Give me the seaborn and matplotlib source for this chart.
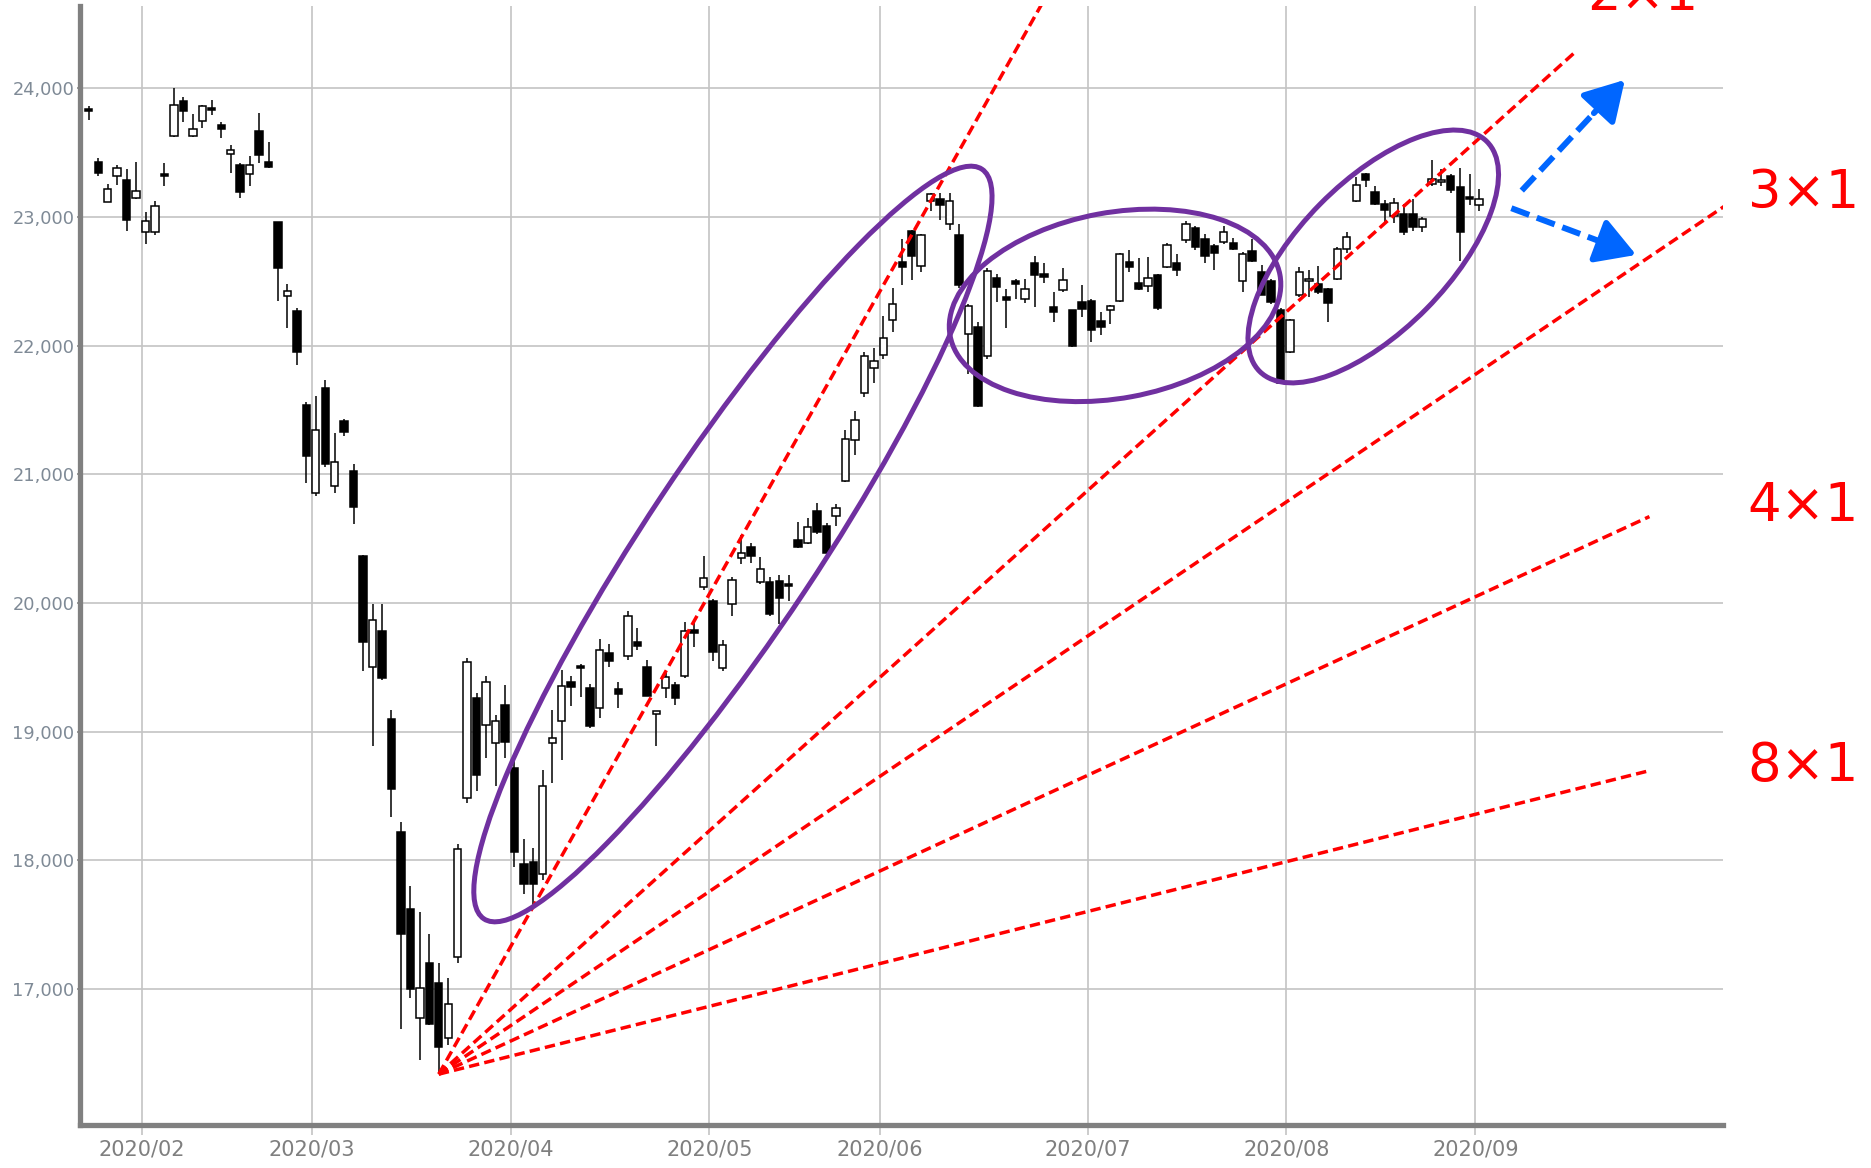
import matplotlib
matplotlib.use("Agg")
import matplotlib.pyplot as plt
import numpy as np
import pandas as pd
import seaborn as sns
from matplotlib.patches import Ellipse, FancyArrowPatch
from matplotlib.transforms import ScaledTranslation

# %% trading days (TSE holidays removed)
holidays = ["2020-02-11", "2020-02-24", "2020-03-20", "2020-04-29", "2020-05-04",
            "2020-05-05", "2020-05-06", "2020-07-23", "2020-07-24", "2020-08-10"]
dates = pd.bdate_range("2020-01-24", "2020-09-01").difference(pd.to_datetime(holidays))

# %% daily OHLC
opens = [
    23830, 23430, 23120, 23320, 23290, 23150,
    22880, 22885, 23330, 23632, 23900, 23626, 23742, 23850, 23716, 23492, 23400, 23330, 23665, 23425, 22957, 22385, 22266, 21540,
    20858, 21670, 20910, 21417, 21030, 20367, 19506, 19785, 19097, 18218, 17627, 16780, 17200, 17050, 16621, 17252, 18488, 19261, 19055, 18914, 19210,
    18720, 17974, 17990, 17897, 18914, 19080, 19390, 19500, 19337, 19183, 19611, 19330, 19592, 19700, 19505, 19137, 19337, 19364, 19436, 19790, 20124,
    20020, 19494, 19994, 20354, 20436, 20160, 20160, 20174, 20150, 20488, 20470, 20715, 20600, 20677, 20948, 21270, 21630, 21824,
    21926, 22197, 22648, 22892, 22622, 23124, 23137, 22944, 22857, 22094, 22146, 21920, 22525, 22380, 22506, 22364, 22640, 22560, 22300, 22429, 22274, 22342,
    22350, 22190, 22280, 22350, 22650, 22486, 22460, 22547, 22609, 22641, 22823, 22911, 22825, 22777, 22802, 22794, 22506, 22738, 22570, 22504, 22274,
    21953, 22390, 22506, 22480, 22442, 22519, 22749, 23124, 23330, 23193, 23098, 23008, 23021, 23021, 22925, 23253, 23270, 23317, 23235, 23150,
    23090,
]
highs = [
    23860, 23460, 23255, 23400, 23370, 23425,
    23040, 23125, 23420, 24000, 23930, 23800, 23870, 23910, 23740, 23560, 23420, 23470, 23807, 23580, 22960, 22480, 22290, 21560,
    21607, 21733, 21320, 21430, 21080, 20370, 19990, 19996, 19170, 18300, 17800, 17600, 17430, 17200, 17090, 18128, 19570, 19300, 19430, 19130, 19360,
    18780, 18170, 18100, 18700, 19170, 19480, 19430, 19530, 19370, 19720, 19680, 19385, 19940, 19810, 19560, 19165, 19460, 19390, 19855, 19855, 20365,
    20030, 19710, 20200, 20530, 20470, 20355, 20200, 20215, 20215, 20630, 20660, 20775, 20620, 20770, 21345, 21490, 21950, 21980,
    22227, 22450, 22825, 22900, 22870, 23185, 23185, 23185, 22944, 22320, 22180, 22600, 22560, 22440, 22520, 22520, 22700, 22640, 22415, 22600, 22280, 22470,
    22360, 22260, 22315, 22720, 22745, 22680, 22690, 22560, 22800, 22715, 22970, 22930, 22870, 22790, 22930, 22840, 22730, 22830, 22630, 22520, 22290,
    22210, 22610, 22590, 22620, 22450, 22770, 22880, 23310, 23340, 23240, 23130, 23150, 23100, 23137, 23000, 23440, 23370, 23330, 23380, 23330,
    23215,
]
lows = [
    23755, 23320, 23115, 23250, 22892, 23140,
    22790, 22860, 23240, 23620, 23740, 23620, 23690, 23790, 23610, 23340, 23150, 23240, 23420, 23380, 22344, 22138, 21850, 20935,
    20834, 21060, 20855, 21296, 20613, 19472, 18891, 19400, 18339, 16690, 16930, 16450, 16720, 16340, 16570, 17200, 18450, 18540, 18800, 18578, 18800,
    17950, 17740, 17646, 17850, 18600, 18780, 19200, 19270, 19030, 19110, 19500, 19185, 19560, 19635, 19280, 18890, 19260, 19210, 19420, 19660, 20100,
    19552, 19470, 19900, 20300, 20310, 20150, 19900, 19840, 20020, 20430, 20460, 20540, 20370, 20600, 20940, 21150, 21600, 21710,
    21900, 22110, 22470, 22510, 22570, 23050, 22980, 22900, 22450, 21780, 21520, 21900, 22340, 22140, 22360, 22330, 22300, 22490, 22185, 22420, 21990, 22220,
    22030, 22080, 22170, 22340, 22570, 22430, 22420, 22280, 22600, 22545, 22800, 22740, 22640, 22590, 22790, 22740, 22420, 22650, 22390, 22320, 21700,
    21940, 22380, 22380, 22400, 22180, 22510, 22720, 23120, 23230, 23090, 22960, 22950, 22860, 22890, 22880, 23240, 23240, 23190, 22660, 23090,
    23050,
]
closes = [
    23827, 23343, 23215, 23379, 22977, 23205,
    22971, 23084, 23319, 23873, 23827, 23686, 23861, 23828, 23687, 23523, 23194, 23400, 23479, 23386, 22605, 22426, 21948, 21142,
    21344, 21082, 21100, 21329, 20749, 19698, 19867, 19416, 18559, 17431, 17002, 17011, 16726, 16552, 16887, 18092, 19546, 18665, 19389, 19084, 18917,
    18065, 17819, 17820, 18576, 18950, 19353, 19345, 19498, 19043, 19639, 19551, 19290, 19897, 19669, 19281, 19165, 19429, 19262, 19783, 19771, 20193,
    19619, 19674, 20179, 20390, 20366, 20267, 19914, 20037, 20133, 20433, 20595, 20552, 20388, 20741, 21271, 21419, 21916, 21877,
    22062, 22325, 22613, 22695, 22863, 23178, 23091, 23124, 22473, 22305, 21530, 22582, 22455, 22355, 22479, 22437, 22549, 22534, 22260, 22512, 21995, 22288,
    22122, 22146, 22306, 22714, 22614, 22438, 22529, 22291, 22784, 22587, 22945, 22770, 22696, 22717, 22884, 22751, 22716, 22657, 22397, 22339, 21710,
    22196, 22573, 22514, 22418, 22329, 22750, 22843, 23250, 23289, 23097, 23051, 23110, 22880, 22920, 22985, 23296, 23290, 23209, 22882, 23140,
    23138,
]

# %% Gann fan drawn from the March low
fan_names = ["1×1", "2×1", "3×1", "4×1", "8×1"]
fan_origin_idx = 37
fan_origin_price = 16340
fan_end_idx = [101.0, 157.1, 172.9, 165.0, 165.0]
fan_end_price = [24686, 24278, 23082, 20672, 18698]

label_names = ["2×1", "3×1", "4×1", "8×1"]
label_idx = [158.4, 175.4, 175.4, 175.4]
label_price = [24608, 23070, 20638, 18618]

# ellipses: centre (trading day, price), size in inches, tilt in degrees
ell_idx = [68.1, 108.5, 135.8]
ell_price = [20459, 22313, 22693]
ell_w = [9.0, 3.354, 3.232]
ell_h = [1.72, 1.856, 1.492]
ell_angle = [56.4, 10.5, 45.4]

# blue scenario arrows
arr_start_idx = [151.5, 150.4]
arr_start_price = [23205, 23068]
arr_tip_idx = [162.4, 163.6]
arr_tip_price = [24065, 22705]

yticks = [17000, 18000, 19000, 20000, 21000, 22000, 23000, 24000]

# %%
df = pd.DataFrame({"Date": dates, "Open": opens, "High": highs, "Low": lows, "Close": closes})
df["idx"] = np.arange(len(df))
df["up"] = df.Close >= df.Open
df["body_lo"] = df[["Open", "Close"]].min(axis=1)
df["body_h"] = (df.Close - df.Open).abs().clip(lower=12)

month_first = df.groupby(df.Date.dt.to_period("M")).idx.min().iloc[1:]
month_lbl = [d.strftime("%Y/%m") for d in df.Date.iloc[month_first.values]]

sns.set_theme(style="whitegrid")
plt.rcParams["font.family"] = ["DejaVu Sans"]

fig = plt.figure(figsize=(18.71, 11.68), dpi=100)
ax = fig.add_axes([0.04276, 0.03682, 0.8781, 0.95804])
ax.set_xlim(-0.93, 172.77)
ax.set_ylim(15945, 24639)

ax.vlines(df.idx, df.Low, df.High, color="black", lw=1.1, zorder=2)
for up, group in df.groupby("up"):
    ax.bar(group.idx, group.body_h, bottom=group.body_lo, width=0.78,
           color="white" if up else "black", edgecolor="black", lw=1.1, zorder=3)

for name, xe, ye in zip(fan_names, fan_end_idx, fan_end_price):
    ax.plot([fan_origin_idx, xe], [fan_origin_price, ye], color="#ff0000", lw=2.5,
            linestyle=(0, (3.0, 1.5)), zorder=4)

for name, xt, yt in zip(label_names, label_idx, label_price):
    ax.text(xt, yt, name, color="#ff0000", fontsize=38, ha="left", va="baseline",
            clip_on=False, zorder=7)

for cx, cy, w, h, ang in zip(ell_idx, ell_price, ell_w, ell_h, ell_angle):
    trans = fig.dpi_scale_trans + ScaledTranslation(cx, cy, ax.transData)
    ax.add_patch(Ellipse((0, 0), w, h, angle=ang, transform=trans, fill=False,
                         edgecolor="#7030a0", lw=3.6, zorder=5))

blue = "#0066ff"
for x0, y0, x1, y1 in zip(arr_start_idx, arr_start_price, arr_tip_idx, arr_tip_price):
    xm, ym = x1 - 0.3 * (x1 - x0), y1 - 0.3 * (y1 - y0)
    ax.plot([x0, xm], [y0, ym], color=blue, lw=4.3, linestyle=(0, (3.2, 1.35)),
            solid_capstyle="butt", dash_capstyle="butt", zorder=6)
    ax.add_patch(FancyArrowPatch((xm, ym), (x1, y1), arrowstyle="-|>,head_length=0.6,head_width=0.35",
                                 mutation_scale=40, color=blue, lw=4.3, shrinkA=0, shrinkB=0, zorder=6))

ax.set_yticks(yticks)
ax.set_yticklabels([f"{v:,}" for v in yticks])
ax.set_xticks(month_first.values - 0.4)
ax.set_xticklabels(month_lbl)
ax.grid(True, color="#c4c4c4", lw=1.2)
ax.set_axisbelow(True)
ax.tick_params(axis="y", labelsize=12.8, labelcolor="#7f8a96", length=2.5, width=1.2,
               color="#8a8a8a", pad=1.5, left=True)
ax.tick_params(axis="x", labelsize=15, labelcolor="#7f7f7f", length=7, width=1.2,
               color="#c4c4c4", pad=3.5, bottom=True)
for side in ["top", "right"]:
    ax.spines[side].set_visible(False)
for side in ["left", "bottom"]:
    ax.spines[side].set_color("#808080")
    ax.spines[side].set_linewidth(3.8)
ax.set_xlabel("")
ax.set_ylabel("")

fig.savefig("out.png", dpi=100)
